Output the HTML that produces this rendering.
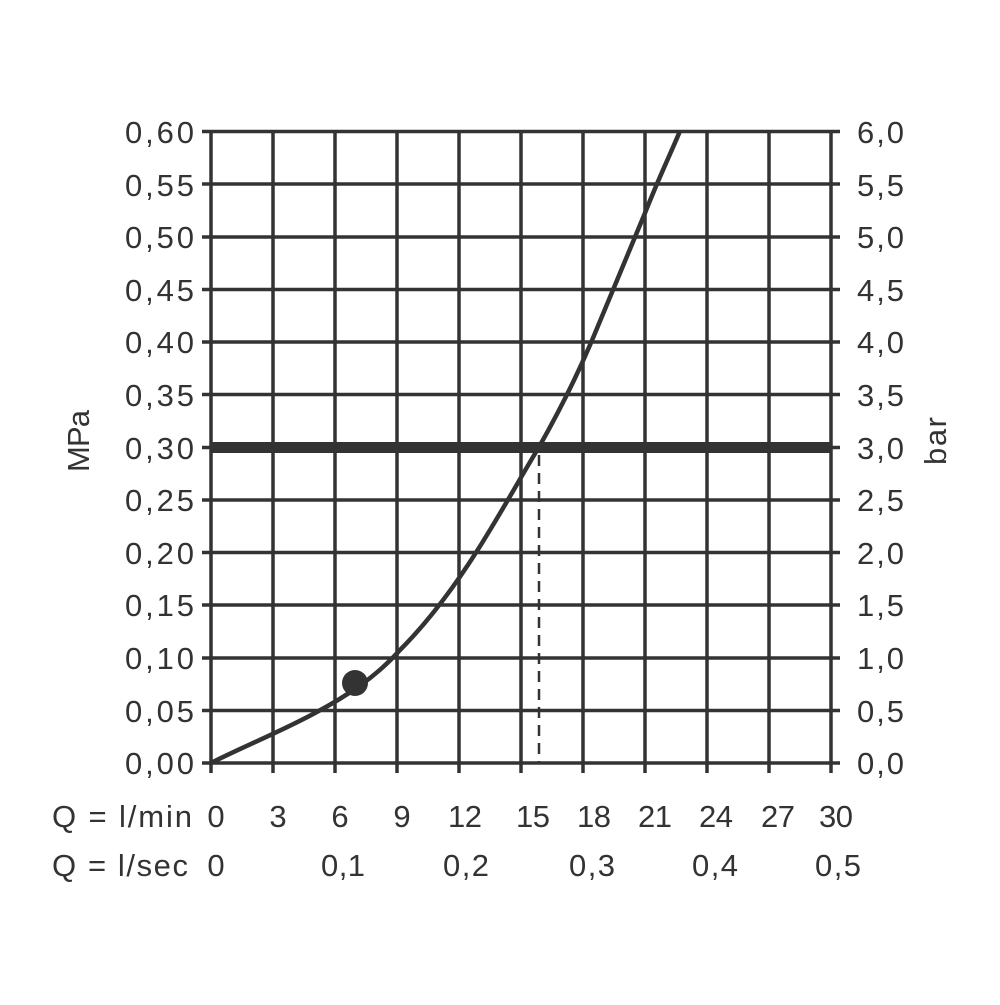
<!DOCTYPE html>
<html><head><style>body{margin:0;background:#fff}</style></head><body>
<svg width="1000" height="1000" xmlns="http://www.w3.org/2000/svg" font-family="Liberation Sans, sans-serif" fill="#333">
<g stroke="#333" stroke-width="3.5" fill="none">
<line x1="211" y1="131" x2="211" y2="773"/><line x1="273" y1="131" x2="273" y2="773"/><line x1="335" y1="131" x2="335" y2="773"/><line x1="397" y1="131" x2="397" y2="773"/><line x1="459" y1="131" x2="459" y2="773"/><line x1="521" y1="131" x2="521" y2="773"/><line x1="583" y1="131" x2="583" y2="773"/><line x1="645" y1="131" x2="645" y2="773"/><line x1="707" y1="131" x2="707" y2="773"/><line x1="769" y1="131" x2="769" y2="773"/><line x1="831" y1="131" x2="831" y2="773"/>
<line x1="202" y1="131.5" x2="840" y2="131.5"/><line x1="202" y1="184" x2="840" y2="184"/><line x1="202" y1="237" x2="840" y2="237"/><line x1="202" y1="289.5" x2="840" y2="289.5"/><line x1="202" y1="342" x2="840" y2="342"/><line x1="202" y1="394.5" x2="840" y2="394.5"/><line x1="202" y1="500" x2="840" y2="500"/><line x1="202" y1="552.5" x2="840" y2="552.5"/><line x1="202" y1="605" x2="840" y2="605"/><line x1="202" y1="658" x2="840" y2="658"/><line x1="202" y1="710.5" x2="840" y2="710.5"/><line x1="202" y1="763" x2="840" y2="763"/>
<line x1="202" y1="447.5" x2="840" y2="447.5"/>
<line x1="211" y1="447.5" x2="831" y2="447.5" stroke-width="11"/>
<line x1="539" y1="455" x2="539" y2="763" stroke-width="2.5" stroke-dasharray="11,7"/>
<path d="M211,763 C240,748 280,732 315,713 C345,697 375,678 400,650 C430,620 460,580 490,530 C510,497 525,470 539,447 C560,410 575,380 590,345 C610,298 630,250 645,213 C660,175 670,155 680,131" stroke-width="4.5"/>
</g>
<circle cx="355" cy="683" r="13"/>
<g font-size="31" text-anchor="end">
<text x="194" y="143" textLength="69">0,60</text><text x="194" y="196" textLength="69">0,55</text><text x="194" y="248" textLength="69">0,50</text><text x="194" y="301" textLength="69">0,45</text><text x="194" y="353" textLength="69">0,40</text><text x="194" y="406" textLength="69">0,35</text><text x="194" y="459" textLength="69">0,30</text><text x="194" y="511" textLength="69">0,25</text><text x="194" y="564" textLength="69">0,20</text><text x="194" y="616" textLength="69">0,15</text><text x="194" y="669" textLength="69">0,10</text><text x="194" y="722" textLength="69">0,05</text><text x="194" y="774" textLength="69">0,00</text>
</g>
<g font-size="31">
<text x="857" y="143" textLength="47">6,0</text><text x="857" y="196" textLength="47">5,5</text><text x="857" y="248" textLength="47">5,0</text><text x="857" y="301" textLength="47">4,5</text><text x="857" y="353" textLength="47">4,0</text><text x="857" y="406" textLength="47">3,5</text><text x="857" y="459" textLength="47">3,0</text><text x="857" y="511" textLength="47">2,5</text><text x="857" y="564" textLength="47">2,0</text><text x="857" y="616" textLength="47">1,5</text><text x="857" y="669" textLength="47">1,0</text><text x="857" y="722" textLength="47">0,5</text><text x="857" y="774" textLength="47">0,0</text>
<text x="52" y="827" textLength="140">Q = l/min</text><text x="52" y="876" textLength="136">Q = l/sec</text>
<text transform="translate(89,441) rotate(-90)" text-anchor="middle" textLength="62">MPa</text>
<text transform="translate(946,441) rotate(-90)" text-anchor="middle" textLength="48">bar</text>
</g>
<g font-size="31" text-anchor="middle">
<text x="216" y="827">0</text><text x="278" y="827">3</text><text x="340" y="827">6</text><text x="402" y="827">9</text><text x="465" y="827" textLength="34">12</text><text x="533" y="827" textLength="34">15</text><text x="594" y="827" textLength="34">18</text><text x="655" y="827" textLength="34">21</text><text x="716" y="827" textLength="34">24</text><text x="778" y="827" textLength="34">27</text><text x="836" y="827" textLength="34">30</text>
<text x="216" y="876">0</text><text x="343" y="876" textLength="44">0,1</text><text x="466" y="876" textLength="46">0,2</text><text x="592" y="876" textLength="46">0,3</text><text x="715" y="876" textLength="46">0,4</text><text x="838" y="876" textLength="46">0,5</text>
</g>
</svg>
</body></html>
